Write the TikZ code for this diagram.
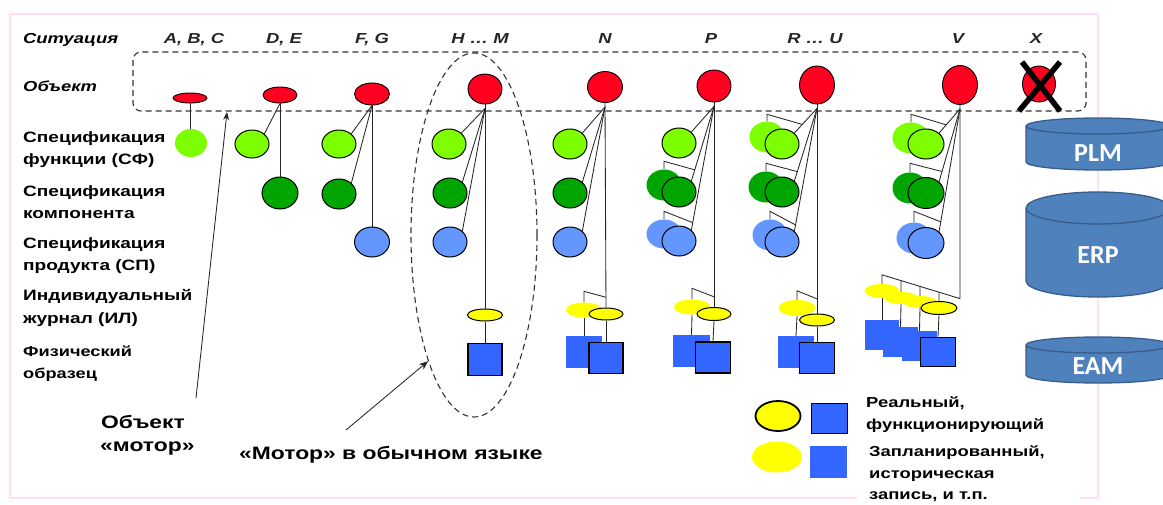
\documentclass[tikz,border=0pt]{standalone}
\usepackage{fontspec}
\setmainfont{Liberation Sans}[FakeStretch=1.27]
\newfontfamily\cylfont{Carlito}
\usetikzlibrary{shapes.geometric,arrows.meta,calc}
\pgfdeclarelayer{bg}
\pgfsetlayers{bg,main}
\definecolor{objred}{RGB}{255,0,32}
\definecolor{lgreen}{RGB}{125,255,0}
\definecolor{dgreen}{RGB}{0,165,0}
\definecolor{lblue}{RGB}{100,150,255}
\definecolor{sqblue}{RGB}{51,102,255}
\definecolor{ylw}{RGB}{255,255,0}
\definecolor{pinkb}{RGB}{255,222,246}
\definecolor{cylf}{RGB}{79,129,189}
\definecolor{cyld}{RGB}{56,93,138}
\begin{document}
\begin{tikzpicture}[x=1pt,y=-1pt,
  obj/.style={ellipse, draw=black, line width=0.9pt, fill=objred, inner sep=0pt, minimum width=34pt},
  circ/.style={ellipse, draw=black, line width=1pt, inner sep=0pt, minimum width=34pt, minimum height=30pt},
  sfr/.style={circ, fill=lgreen},
  kr/.style={circ, fill=dgreen},
  pr/.style={circ, fill=lblue},
  ghost/.style={ellipse, inner sep=0pt, minimum width=35pt, minimum height=31pt},
  sfg/.style={ghost, fill=lgreen},
  kg/.style={ghost, fill=dgreen},
  pg/.style={ghost, fill=lblue},
  ilr/.style={ellipse, draw=black, line width=1pt, fill=ylw, inner sep=0pt, minimum width=35pt, minimum height=12pt},
  ilg/.style={ellipse, fill=ylw, inner sep=0pt, minimum width=36pt, minimum height=15pt},
  fsr/.style={rectangle, draw=black, line width=1.8pt, fill=sqblue, inner sep=0pt, minimum width=34pt, minimum height=31pt},
  fsg/.style={rectangle, fill=sqblue, inner sep=0pt, minimum width=36pt, minimum height=32pt},
  conn/.style={line width=0.85pt, draw=black!85},
  lbl/.style={anchor=base west, inner sep=0pt, font=\bfseries\fontsize{15}{18}\selectfont},
  lbls/.style={anchor=base west, inner sep=0pt, font=\bfseries\fontsize{14.3}{16}\selectfont},
  rowh/.style={anchor=base west, inner sep=0pt, font=\bfseries\itshape\fontsize{14.5}{18}\selectfont},
  colh/.style={anchor=base, inner sep=0pt, text=black!85, font=\bfseries\itshape\fontsize{14.5}{18}\selectfont},
  note/.style={anchor=base west, inner sep=0pt, font=\bfseries\fontsize{18}{22}\selectfont},
  leg/.style={anchor=base west, inner sep=0pt, font=\bfseries\fontsize{14.5}{18}\selectfont},
  cyltext/.style={inner sep=0pt, text=white, font=\cylfont\bfseries\fontsize{26}{30}\selectfont},
  dashline/.style={line width=1.1pt, draw=black!80, dash pattern=on 6pt off 4pt}
]
\useasboundingbox (0,0) rectangle (1163,504);
\clip (0,0) rectangle (1163,504);
\begin{pgfonlayer}{bg}
\fill[white] (0,0) rectangle (1163,504);
\draw[pinkb, line width=1.5pt] (10,14) rectangle (1098,498);
\end{pgfonlayer}

% row headings
\node[rowh] (tSit) at (23,43) {Ситуация};
\node[rowh] (tObj) at (23,91) {Объект};
\node[lbl] (l1a) at (23,142.5) {Спецификация};
\node[lbl] (l1b) at (23,164) {функции (СФ)};
\node[lbl] (l2a) at (23,196) {Спецификация};
\node[lbl] (l2b) at (23,218) {компонента};
\node[lbl] (l3a) at (23,248) {Спецификация};
\node[lbl] (l3b) at (23,270) {продукта (СП)};
\node[lbl] (l4a) at (23,300) {Индивидуальный};
\node[lbl] (l4b) at (23,323) {журнал (ИЛ)};
\node[lbls] (l5a) at (23,356) {Физический};
\node[lbls] (l5b) at (23,378) {образец};

% column headings
\node[colh] (hA) at (194,43) {A, B, C};
\node[colh] (hD) at (284,43) {D, E};
\node[colh] (hF) at (372,43) {F, G};
\node[colh] (hH) at (480,43) {H … M};
\node[colh] (hN) at (605,43) {N};
\node[colh] (hP) at (711,43) {P};
\node[colh] (hR) at (815,43) {R … U};
\node[colh] (hV) at (958,43) {V};
\node[colh] (hX) at (1036,43) {X};

% object frame
\draw[dashline, rounded corners=8pt] (133,52) rectangle (1086,111);
\node[ellipse, dashline, minimum width=126pt, minimum height=364pt, inner sep=0pt] (engine) at (474,235) {};

% column A,B,C
\node[obj, minimum height=10pt] (oA) at (190,98) {};
\node[ghost, fill=lgreen, minimum width=32pt, minimum height=28pt] (fA) at (191,143) {};
% column D,E
\node[obj, minimum height=16pt] (oD) at (280,95) {};
\node[sfr, minimum height=28pt] (fD) at (252,144) {};
\node[kr, minimum width=36pt, minimum height=32pt] (kD) at (280,193) {};
% column F,G
\node[obj, minimum width=35pt, minimum height=22pt] (oF) at (372,94) {};
\node[sfr, minimum height=28pt] (fF) at (339,144) {};
\node[kr] (kF) at (339,194) {};
\node[pr, minimum width=35pt] (pF) at (372,242) {};
% column H..M
\node[obj, minimum height=30pt] (oH) at (485,89) {};
\node[sfr] (fH) at (449,144) {};
\node[kr] (kH) at (450,193) {};
\node[pr] (pH) at (450,242) {};
\node[ilr] (iH) at (485,315) {};
\node[fsr, minimum height=32pt] (sH) at (485,359.5) {};
% column N
\node[obj, minimum width=35pt, minimum height=31pt] (oN) at (605,87) {};
\node[sfr] (fN) at (570,144) {};
\node[kr] (kN) at (570,193) {};
\node[pr] (pN) at (570,242) {};
\node[ilg] (iNg) at (584,310) {};
\node[ilr, minimum width=34pt] (iN) at (606,314) {};
\node[fsg] (sNg) at (584,352) {};
\node[fsr] (sN) at (606,358) {};
% column P
\node[obj, minimum height=32pt] (oP) at (714,86) {};
\node[sfr] (fP) at (679,143) {};
\node[kg] (kPg) at (664,185) {};
\node[kr] (kP) at (679,192) {};
\node[pg, minimum height=29pt] (pPg) at (664,234) {};
\node[pr] (pP) at (679,241) {};
\node[ilg] (iPg) at (692,307) {};
\node[ilr, minimum width=34pt, minimum height=13pt] (iP) at (714,314) {};
\node[fsg, minimum width=37pt] (sPg) at (691.5,351) {};
\node[fsr, minimum width=35pt] (sP) at (713,357.5) {};
% column R..U
\node[obj, minimum width=35pt, minimum height=38pt] (oR) at (817,85) {};
\node[sfg] (fRg) at (767,137) {};
\node[sfr] (fR) at (782,144) {};
\node[kg] (kRg) at (766,187) {};
\node[kr] (kR) at (782,192) {};
\node[pg] (pRg) at (770,235) {};
\node[pr] (pR) at (782,242) {};
\node[ilg, minimum width=37pt, minimum height=16pt] (iRg) at (797,308) {};
\node[ilr] (iR) at (817,320) {};
\node[fsg] (sRg) at (796,352) {};
\node[fsr, minimum width=35pt] (sR) at (817,358) {};
% column V
\node[obj, minimum width=35pt, minimum height=39pt] (oV) at (960,85) {};
\node[sfg, minimum width=37pt] (fVg) at (911,138) {};
\node[sfr, minimum width=36pt] (fV) at (926,144) {};
\node[kg] (kVg) at (910,188) {};
\node[kr, minimum width=36pt, minimum height=31pt] (kV) at (926,193) {};
\node[pg] (pVg) at (914,238) {};
\node[pr, minimum width=36pt, minimum height=31pt] (pV) at (926,243) {};
\node[fsg, minimum width=34pt, minimum height=30pt] (sV1) at (882,335) {};
\node[fsg, minimum width=35pt, minimum height=30pt] (sV2) at (900.5,342) {};
\node[fsg, minimum width=35pt, minimum height=30pt] (sV3) at (919.5,346) {};
\node[fsr, minimum width=35pt, minimum height=29pt] (sV) at (938,352) {};
\node[ilg, minimum width=35pt, minimum height=14pt] (iV1) at (882,291) {};
\node[ilg, minimum width=34pt, minimum height=12pt] (iV2) at (901,298) {};
\node[ilg, minimum width=34pt, minimum height=12pt] (iV3) at (920,302) {};
\node[ilr, minimum width=36pt, minimum height=13pt] (iV) at (939,308) {};
% column X
\node[obj, minimum width=33pt, minimum height=36pt] (oX) at (1039,84) {};
\draw[line width=5.5pt] ($(oX)+(-17,-22)$) -- ($(oX)+(21,27)$);
\draw[line width=5.5pt] ($(oX)+(21,-22)$) -- ($(oX)+(-20,27)$);

% connectors
\begin{pgfonlayer}{bg}
\coordinate (aH) at ($(oH.south)+(0,4)$);
\coordinate (aN) at ($(oN.south)+(0,4)$);
\coordinate (aP) at ($(oP.south)+(0,4)$);
\coordinate (aR) at ($(oR.south)+(0,4)$);
\coordinate (aV) at ($(oV.south)+(0,4)$);
\draw[conn] (oA.south) -- (oA.south |- fA.north);
\draw[conn] (oD.south) -- (fD.north east);
\draw[conn] (oD.south) -- (kD.north);
\draw[conn] (oF.south) -- (fF.north east);
\draw[conn] (oF.south) -- (kF.north east);
\draw[conn] (oF.south) -- (pF.north);
% H..M
\draw[conn] (oH.south) -- (iH.north);
\draw[conn] (iH.south) -- (sH.north);
\draw[conn] (aH) -- (fH.north east);
\draw[conn] (aH) -- (kH.north east);
\draw[conn] (aH) -- (pH.north east);
% N
\draw[conn] (oN.south) -- (iN.north);
\draw[conn] (iN.south) -- (sN.north);
\draw[conn] (aN) -- (fN.north east);
\draw[conn] (aN) -- (kN.north east);
\draw[conn] (aN) -- (pN.north east);
\draw[conn] (iNg.north) -- ++(0,-11) -- ($(oN.south)!0.95!(iN.north)$);
\draw[conn] (iNg.south) -- (sNg.north);
% P
\draw[conn] (oP.south) -- (iP.north);
\draw[conn] (iP.south) -- (sP.north);
\draw[conn] (aP) -- (fP.north east);
\draw[conn] (aP) -- (kP.north east);
\draw[conn] (aP) -- (pP.north east);
\draw[conn] (kPg.north) -- ++(0,-8) -- ($(aP)!0.85!(kP.north east)$);
\draw[conn] (pPg.north) -- ++(0,-8) -- ($(aP)!0.94!(pP.north east)$);
\draw[conn] (iPg.north) -- ++(0,-11) -- ($(oP.south)!0.95!(iP.north)$);
\draw[conn] (iPg.south) -- (sPg.north);
% R..U
\draw[conn] (oR.south) -- (iR.north);
\draw[conn] (iR.south) -- (sR.north);
\draw[conn] (aR) -- (fR.north east);
\draw[conn] (aR) -- (kR.north east);
\draw[conn] (aR) -- (pR.north east);
\draw[conn] (fRg.north) -- ++(0,-7) -- ($(aR)!0.65!(fR.north east)$);
\draw[conn] (kRg.north) -- ++(0,-8) -- ($(aR)!0.87!(kR.north east)$);
\draw[conn] (pRg.north) -- ++(0,-8) -- ($(aR)!0.95!(pR.north east)$);
\draw[conn] (iRg.north) -- ++(0,-9) -- ($(oR.south)!0.93!(iR.north)$);
\draw[conn] (iRg.south) -- (sRg.north);
% V
\coordinate (vk) at ($(oV.south)!0.922!(oV.south |- 0,315)$);
\coordinate (vr) at ($(iV1.north)+(0,-9)$);
\draw[conn] (oV.south) -- (vk) -- (vr) -- (iV1.north);
\draw[conn] ($(vk)!0.756!(vr)$) -- (iV2.north);
\draw[conn] ($(vk)!0.513!(vr)$) -- (iV3.north);
\draw[conn] ($(vk)!0.269!(vr)$) -- (iV.north);
\draw[conn] (iV1.south) -- (sV1.north);
\draw[conn] (iV2.south) -- (sV2.north);
\draw[conn] (iV3.south) -- (sV3.north);
\draw[conn] (iV.south) -- (sV.north);
\draw[conn] (aV) -- (fV.north east);
\draw[conn] (aV) -- (kV.north east);
\draw[conn] (aV) -- (pV.north east);
\draw[conn] (fVg.north) -- ++(0,-8) -- ($(aV)!0.66!(fV.north east)$);
\draw[conn] (kVg.north) -- ++(0,-9) -- ($(aV)!0.86!(kV.north east)$);
\draw[conn] (pVg.north) -- ++(0,-11) -- ($(aV)!0.92!(pV.north east)$);
\end{pgfonlayer}

% databases
\filldraw[fill=cylf, draw=cyld, line width=1.3pt] (1026,126) -- (1026,162) arc[start angle=180,end angle=0,x radius=72,y radius=8] -- (1170,126) arc[start angle=0,end angle=-180,x radius=72,y radius=8] -- cycle;
\draw[cyld, line width=1.3pt] (1026,126) arc[start angle=180,end angle=0,x radius=72,y radius=8];
\node[cyltext] (plm) at (1098,153) {PLM};
\filldraw[fill=cylf, draw=cyld, line width=1.3pt] (1026,208) -- (1026,281) arc[start angle=180,end angle=0,x radius=72,y radius=16] -- (1170,208) arc[start angle=0,end angle=-180,x radius=72,y radius=16] -- cycle;
\draw[cyld, line width=1.3pt] (1026,208) arc[start angle=180,end angle=0,x radius=72,y radius=16];
\node[cyltext] (erp) at (1098,255) {ERP};
\filldraw[fill=cylf, draw=cyld, line width=1.3pt] (1026,345) -- (1026,375) arc[start angle=180,end angle=0,x radius=72,y radius=8] -- (1170,345) arc[start angle=0,end angle=-180,x radius=72,y radius=8] -- cycle;
\draw[cyld, line width=1.3pt] (1026,345) arc[start angle=180,end angle=0,x radius=72,y radius=8];
\node[cyltext] (eam) at (1098,366) {EAM};

% notes and arrows
\node[note] (n1a) at (101,428) {Объект};
\node[note] (n1b) at (100,451) {«мотор»};
\node[note] (n2) at (239,459) {«Мотор» в обычном языке};
\coordinate (objfoot) at (196,398);
\coordinate (objtip) at (227,112);
\draw[conn, -{Stealth[length=8pt,width=6pt]}] (objfoot) -- (objtip);
\coordinate (motfoot) at (346,430);
\draw[conn, -{Stealth[length=9pt,width=7pt]}] (motfoot) -- (engine.250);

% legend
\fill[white] (857,440) rectangle (1080,504);
\node[ellipse, draw=black, line width=1.8pt, fill=ylw, inner sep=0pt, minimum width=45pt, minimum height=30pt] (lgy) at (778,416) {};
\node[fsr, minimum width=36pt, minimum height=30pt] (lgs) at (829.5,418.5) {};
\node[ellipse, fill=ylw, inner sep=0pt, minimum width=50pt, minimum height=31pt] (lgyg) at (777,457) {};
\node[fsg, minimum width=37pt, minimum height=32pt] (lgsg) at (828.5,462) {};
\node[leg] (t1) at (866,407) {Реальный,};
\node[leg] (t2) at (866,429) {функционирующий};
\node[leg] (t3) at (869,456) {Запланированный,};
\node[leg] (t4) at (869,478) {историческая};
\node[leg] (t5) at (869,499) {запись, и т.п.};
\end{tikzpicture}
\end{document}
